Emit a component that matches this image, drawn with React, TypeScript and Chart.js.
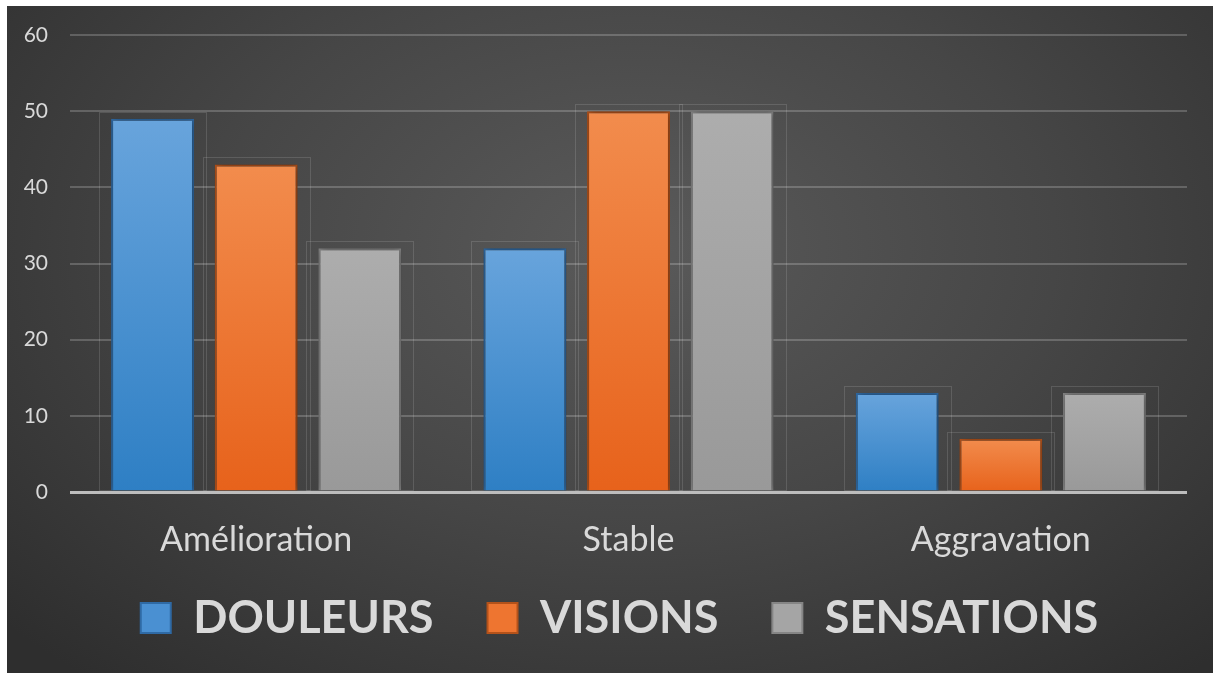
import React, { useEffect, useRef } from "react";
import { Chart, registerables } from "chart.js";

Chart.register(...registerables);

const categories = ["Amélioration", "Stable", "Aggravation"];
const seriesNames = ["DOULEURS", "VISIONS", "SENSATIONS"];
const douleurs = [49, 32, 13];
const visions = [43, 50, 7];
const sensations = [32, 50, 13];
const yTicks = [0, 10, 20, 30, 40, 50, 60];

const FONT = "Lato, 'Open Sans', sans-serif";
const TEXT = "#d9d9d9";
const LEGEND_FONT = 45;
const LEGEND_PAD = 54;

const palettes = [
  { top: "#68a4dc", bottom: "#2e7fc4", border: "#2f6aa5", solid: "#4a90d2" },
  { top: "#f28c4d", bottom: "#e7621b", border: "#b4521a", solid: "#ee7530" },
  { top: "#adadad", bottom: "#999999", border: "#858585", solid: "#a5a5a5" },
];

function makeFill(idx: number) {
  return (ctx: any) => {
    const chart = ctx.chart;
    const y = chart.scales?.y;
    const p = palettes[idx];
    if (!y || ctx.raw === undefined) return p.solid;
    const top = y.getPixelForValue(ctx.raw);
    const base = y.getPixelForValue(0);
    if (!isFinite(top) || !isFinite(base) || Math.abs(base - top) < 1) return p.solid;
    const g = chart.ctx.createLinearGradient(0, top, 0, base);
    g.addColorStop(0, p.top);
    g.addColorStop(1, p.bottom);
    return g;
  };
}

const ghostPlugin = {
  id: "ghost",
  afterLayout(chart: any) {
    const l = chart.legend;
    if (!l) return;
    const dx = 612.5 - (l.left + l.right) / 2;
    const dy = 612 - (l.top + LEGEND_PAD + LEGEND_FONT / 2);
    l.left += dx;
    l.right += dx;
    l.top += dy;
    l.bottom += dy;
  },
  beforeDatasetsDraw(chart: any) {
    const ctx = chart.ctx;
    ctx.save();
    ctx.strokeStyle = "rgba(255,255,255,0.13)";
    ctx.lineWidth = 1;
    chart.data.datasets.forEach((_: any, di: number) => {
      const meta = chart.getDatasetMeta(di);
      meta.data.forEach((el: any) => {
        const { x, y, base, width } = el.getProps(["x", "y", "base", "width"], true);
        const l = Math.round(x - width / 2 - 12) + 0.5;
        const r = Math.round(x + width / 2 + 12) + 0.5;
        const t = Math.round(y - 7) + 0.5;
        ctx.strokeRect(l, t, r - l, base - t);
      });
    });
    ctx.restore();
  },
  beforeDatasetDraw(chart: any) {
    const ctx = chart.ctx;
    ctx.shadowColor = "rgba(0,0,0,0.45)";
    ctx.shadowBlur = 8;
    ctx.shadowOffsetX = 1;
    ctx.shadowOffsetY = 0;
  },
  afterDatasetDraw(chart: any) {
    const ctx = chart.ctx;
    ctx.shadowColor = "rgba(0,0,0,0)";
    ctx.shadowBlur = 0;
    ctx.shadowOffsetX = 0;
  },
};

export default function App() {
  const ref = useRef<HTMLCanvasElement | null>(null);

  useEffect(() => {
    if (!ref.current) return;
    const seriesValues = [douleurs, visions, sensations];
    const chart = new Chart(ref.current, {
      type: "bar",
      data: {
        labels: categories,
        datasets: seriesNames.map((name, i) => ({
          label: name,
          data: seriesValues[i],
          backgroundColor: makeFill(i),
          borderColor: palettes[i].border,
          borderWidth: 2,
          categoryPercentage: 0.835,
          barPercentage: 0.8,
        })),
      },
      options: {
        animation: false,
        responsive: false,
        maintainAspectRatio: false,
        layout: { padding: { top: 29, right: 26, left: 0, bottom: 0 } },
        plugins: {
          tooltip: { enabled: false },
          legend: {
            position: "bottom",
            align: "center",
            labels: {
              color: TEXT,
              font: { family: FONT, size: LEGEND_FONT, weight: "bold" },
              boxWidth: 30,
              boxHeight: 30,
              padding: LEGEND_PAD,
              generateLabels: () =>
                seriesNames.map((name, i) => ({
                  text: name,
                  fillStyle: palettes[i].solid,
                  strokeStyle: palettes[i].border,
                  lineWidth: 2,
                  fontColor: TEXT,
                  hidden: false,
                  datasetIndex: i,
                })),
            },
          },
        },
        scales: {
          x: {
            afterFit: (s: any) => {
              s.height = 72;
            },
            grid: { display: false, drawTicks: false },
            border: { display: false },
            ticks: {
              color: TEXT,
              font: { family: FONT, size: 34 },
              padding: 28,
            },
          },
          y: {
            min: 0,
            max: 60,
            afterFit: (s: any) => {
              s.width = 63;
              s.paddingTop = 0;
              s.paddingBottom = 0;
            },
            afterBuildTicks: (s: any) => {
              s.ticks = yTicks.map((v) => ({ value: v }));
            },
            border: { display: false },
            grid: {
              drawTicks: false,
              color: (c: any) => (c.tick && c.tick.value === 0 ? "#bdbdbd" : "rgba(255,255,255,0.2)"),
              lineWidth: (c: any) => (c.tick && c.tick.value === 0 ? 3 : 2),
            },
            ticks: {
              color: TEXT,
              font: { family: FONT, size: 21 },
              padding: 22,
            },
          },
        },
      },
      plugins: [ghostPlugin],
    });
    return () => chart.destroy();
  }, []);

  return (
    <div
      style={{
        position: "fixed",
        left: 0,
        top: 0,
        width: 1213,
        height: 673,
        background: "#ffffff",
        overflow: "hidden",
      }}
    >
      <div
        style={{
          position: "absolute",
          left: 7,
          top: 6,
          width: 1206,
          height: 667,
          background:
            "radial-gradient(ellipse 70% 85% at 52% 36%, #5a5a5a 0%, #464646 50%, #2e2e2e 100%)",
        }}
      >
        <canvas ref={ref} width={1206} height={667} style={{ display: "block", width: 1206, height: 667 }} />
      </div>
    </div>
  );
}
